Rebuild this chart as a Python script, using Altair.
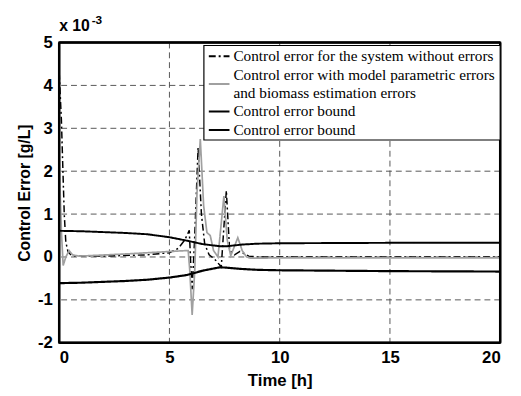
import altair as alt
import pandas as pd

# ---- data (values in units of 1e-3 g/L) ----
t_noerr = [0, 0.1, 0.17, 0.23, 0.3, 0.4, 0.55, 0.8, 2, 4, 5.0, 5.4, 5.7, 5.9, 5.96, 6.03, 6.14, 6.3, 6.45, 6.6, 6.8, 7.05, 7.35, 7.58, 7.73, 7.95, 8.2, 8.6, 9, 12, 16, 20]
v_noerr = [4.3, 3.2, 2.0, 1.0, 0.35, 0.12, 0.04, 0.02, 0.02, 0.05, 0.1, 0.2, 0.4, 0.62, -0.1, -0.75, 0.4, 2.55, 1.0, 0.3, 0.05, -0.05, -0.23, 1.55, 0.15, 0.05, 0.13, 0.02, 0.0, 0.0, 0.0, 0.0]

t_err = [0, 0.1, 0.18, 0.3, 0.45, 0.6, 0.9, 3, 5.8, 5.85, 5.92, 6.03, 6.15, 6.25, 6.4, 6.55, 6.7, 6.85, 7.0, 7.2, 7.47, 7.62, 7.78, 7.95, 8.1, 8.3, 8.5, 8.7, 10, 20]
v_err = [2.2, 0.6, -0.2, 0.0, 0.15, 0.05, 0.02, 0.07, 0.15, 0.15, -0.3, -1.35, -0.3, 1.5, 2.75, 1.2, 0.57, 0.5, 0.15, 0.0, 1.42, 0.4, 0.03, 0.25, 0.45, 0.15, 0.0, -0.03, -0.02, -0.02]

t_bound = [0, 1, 2, 3, 4, 5, 5.8, 6.5, 7.3, 7.6, 8.3, 9, 10, 15, 20]
v_upper = [0.61, 0.6, 0.58, 0.56, 0.53, 0.46, 0.38, 0.3, 0.25, 0.25, 0.29, 0.31, 0.32, 0.33, 0.33]
v_lower = [-0.61, -0.6, -0.58, -0.56, -0.53, -0.48, -0.42, -0.32, -0.24, -0.25, -0.28, -0.3, -0.31, -0.33, -0.34]

series_keys = ["a", "b", "c", "d"]
series_labels = [
    ["Control error for the system without errors"],
    ["Control error with model parametric errors", "and biomass estimation errors"],
    ["Control error bound"],
    ["Control error bound"],
]
series_colors = ["#000000", "#a0a0a0", "#000000", "#000000"]
series_dash = [[7, 3, 2, 3], [1, 0], [1, 0], [1, 0]]
series_width = [1.5, 2.2, 2, 2]

x_ticks = [0, 5, 10, 15, 20]
y_ticks = [-2, -1, 0, 1, 2, 3, 4, 5]

W, H = 448, 305
XD, YD = [0, 20], [-2, 5]

rows = []
for k, (ts, vs) in zip(series_keys, [(t_noerr, v_noerr), (t_err, v_err), (t_bound, v_upper), (t_bound, v_lower)]):
    for i, (t, v) in enumerate(zip(ts, vs)):
        rows.append({"series": k, "t": t, "v": v, "order": i})
df = pd.DataFrame(rows)

xscale = alt.Scale(domain=XD, nice=False)
yscale = alt.Scale(domain=YD, nice=False)

# dashed grid lines at the interior ticks (edges are the frame)
xgrid = alt.Chart(pd.DataFrame({"g": [v for v in x_ticks if v not in XD]})).mark_rule(
    color="#444444", strokeDash=[6, 4], strokeWidth=0.9).encode(x=alt.X("g:Q", scale=xscale))
ygrid = alt.Chart(pd.DataFrame({"g": [v for v in y_ticks if v not in YD]})).mark_rule(
    color="#444444", strokeDash=[6, 4], strokeWidth=0.9).encode(y=alt.Y("g:Q", scale=yscale))

lines = alt.Chart(df).mark_line(clip=True).encode(
    x=alt.X("t:Q", scale=xscale,
            axis=alt.Axis(values=x_ticks, title="Time [h]", labelExpr="datum.value")),
    y=alt.Y("v:Q", scale=yscale,
            axis=alt.Axis(values=y_ticks, title="Control Error [g/L]", labelExpr="datum.value")),
    order="order:Q",
    color=alt.Color("series:N", scale=alt.Scale(domain=series_keys, range=series_colors), legend=None),
    strokeDash=alt.StrokeDash("series:N", scale=alt.Scale(domain=series_keys, range=series_dash), legend=None),
    strokeWidth=alt.StrokeWidth("series:N", scale=alt.Scale(domain=series_keys, range=series_width), legend=None),
)

# frame drawn from the axis extremes through the scales
frame_x = alt.Chart(pd.DataFrame({"g": XD})).mark_rule(color="#000000", strokeWidth=2.5).encode(
    x=alt.X("g:Q", scale=xscale))
frame_y = alt.Chart(pd.DataFrame({"g": YD})).mark_rule(color="#000000", strokeWidth=2.5).encode(
    y=alt.Y("g:Q", scale=yscale))

one = pd.DataFrame({"k": [0]})

# exponent label
exp_text = alt.Chart(pd.DataFrame({"txt": ["x 10"]})).mark_text(
    font="Liberation Sans", fontWeight="bold", fontSize=16, align="left", baseline="middle"
).encode(text="txt:N", x=alt.value(0), y=alt.value(-17))
sup_text = alt.Chart(pd.DataFrame({"txt": ["-3"]})).mark_text(
    font="Liberation Sans", fontWeight="bold", fontSize=12, align="left", baseline="middle"
).encode(text="txt:N", x=alt.value(33), y=alt.value(-23))

# legend (drawn manually to match the boxed MATLAB legend)
LX0, LX1, LY0, LY1 = 147, W, 3, 99
legend_layers = [
    alt.Chart(one).mark_rect(fill="#ffffff", stroke="#000000", strokeWidth=1.2).encode(
        x=alt.value(LX0), x2=alt.value(LX1), y=alt.value(LY0), y2=alt.value(LY1))
]
line_h = 18.7
ypos = LY0 + 11
for k, labs, col, dash, sw in zip(series_keys, series_labels, series_colors, series_dash, series_width):
    n = len(labs)
    sym_y = ypos + (n - 1) * line_h / 2
    legend_layers.append(
        alt.Chart(one).mark_rule(color=col, strokeDash=dash, strokeWidth=2).encode(
            x=alt.value(LX0 + 5), x2=alt.value(LX0 + 26), y=alt.value(sym_y)))
    for j, lab in enumerate(labs):
        legend_layers.append(
            alt.Chart(pd.DataFrame({"txt": [lab]})).mark_text(
                font="Liberation Serif", fontSize=15.5, align="left", baseline="middle", color="#000000"
            ).encode(text="txt:N", x=alt.value(LX0 + 30), y=alt.value(ypos + j * line_h)))
    ypos += n * line_h

chart = alt.layer(xgrid, ygrid, lines, frame_x, frame_y, exp_text, sup_text, *legend_layers).properties(
    width=W, height=H,
    autosize=alt.AutoSizeParams(type="none"),
    padding={"left": 52, "top": 32, "right": 13, "bottom": 50},
).configure_view(
    stroke="#000000", strokeWidth=2
).configure_axis(
    domain=False, ticks=False, tickSize=0, grid=False,
    labelFont="Liberation Sans", labelFontWeight="bold", labelFontSize=17, labelColor="#000000",
    titleFont="Liberation Sans", titleFontWeight="bold", titleFontSize=16, titleColor="#000000",
).configure_axisX(
    labelPadding=7, titlePadding=7, titleFontSize=17
).configure_axisY(
    labelPadding=7, titlePadding=5
)

chart.save("out.html", embed_options={"renderer": "svg", "actions": False})
